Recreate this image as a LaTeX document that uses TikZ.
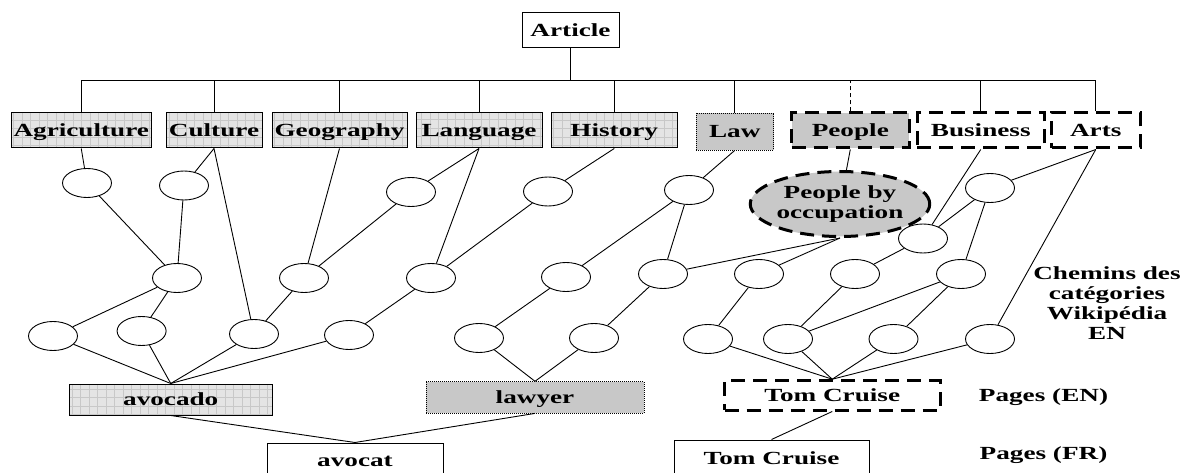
\documentclass[tikz,border=0pt]{standalone}
\usepackage{fontspec}
\newfontfamily\lbl[FakeStretch=1.47]{Liberation Serif}
\usetikzlibrary{shapes.geometric}
\definecolor{gridfill}{HTML}{E4E4E4}
\definecolor{gridline}{HTML}{C8C8C8}
\definecolor{dotfill}{HTML}{C8C8C8}
\tikzset{
  lab/.style={font=\lbl\bfseries\fontsize{18.5}{20}\selectfont, text=black},
  box/.style={lab, draw, line width=1pt, rectangle, inner sep=0pt, minimum height=35pt, fill=white, text depth=0pt},
  gridbox/.style={box, fill=gridfill, path picture={\draw[gridline, line width=0.4pt, step=8.5pt] (path picture bounding box.south west) grid (path picture bounding box.north east);}},
  dotbox/.style={box, fill=dotfill, densely dotted, line width=0.8pt},
  tdash/.style={line width=3pt, dash pattern=on 14pt off 8pt},
  dashbox/.style={box, tdash},
  ell/.style={draw, ellipse, line width=0.9pt, minimum width=49pt, minimum height=29pt, inner sep=0pt, fill=white},
  con/.style={line width=0.9pt},
}
\begin{document}
\begin{tikzpicture}[x=1pt, y=-1pt]
\useasboundingbox (0,0) rectangle (1181,473);
\clip (0,0) rectangle (1181,473);
% top boxes
\node[box, minimum width=97pt] (Article) at (570.5,30.5) {Article};
\node[gridbox, minimum width=139.5pt] (Agri) at (81.25,130.5) {Agriculture};
\node[gridbox, minimum width=96pt] (Cult) at (214,130.5) {Culture};
\node[gridbox, minimum width=135pt] (Geo) at (339.5,130.5) {Geography};
\node[gridbox, minimum width=126pt] (Lang) at (479,130.5) {Language};
\node[gridbox, minimum width=125.5pt] (Hist) at (614.25,130.5) {History};
\node[dotbox, minimum width=77.5pt, minimum height=37pt] (Law) at (734.75,131.5) {Law};
\node[dashbox, fill=dotfill, minimum width=117.4pt] (People) at (850.3,130.5) {People};
\node[dashbox, minimum width=127.5pt] (Bus) at (980.75,130.5) {Business};
\node[dashbox, minimum width=88.5pt] (Arts) at (1095.75,130.5) {Arts};
% tree bar
\coordinate (bar) at (571,80);
\draw[con] (Article.south) -- (Article.south |- bar);
\draw[con] (Agri.north |- bar) -- (Arts.north |- bar);
\foreach \n in {Agri,Cult,Geo,Lang,Hist,Law,Bus,Arts}{
  \draw[con] (\n.north) -- (\n.north |- bar);
}
\draw[con, dash pattern=on 4pt off 3pt] (People.north) -- (People.north |- bar);
% ellipses
\node[ell] (E1) at (87,183) {};
\node[ell] (E2) at (184,185.5) {};
\node[ell] (E3) at (411,192) {};
\node[ell] (E4) at (548,191.5) {};
\node[ell] (EL) at (689,190) {};
\node[ell] (EA) at (990,188) {};
\node[ell] (R1) at (923,238.5) {};
\node[ell, lab, fill=dotfill, tdash, minimum width=158pt, minimum height=65pt, align=center] (POcc) at (840,204) {People by\\occupation};
\node[ell] (M1) at (177,278) {};
\node[ell] (M2) at (304,278) {};
\node[ell] (M3) at (431,278) {};
\node[ell] (M4) at (566,277) {};
\node[ell] (M5) at (663,274) {};
\node[ell] (M6) at (759,274) {};
\node[ell] (M7) at (855,274) {};
\node[ell] (M8) at (961,274) {};
\node[ell] (B1) at (53,336) {};
\node[ell] (B2) at (141.6,331) {};
\node[ell] (B3) at (254,334) {};
\node[ell] (B4) at (349,335) {};
\node[ell] (B5) at (479,338) {};
\node[ell] (B6) at (594,338) {};
\node[ell] (B7) at (708,339) {};
\node[ell] (B8) at (788,339) {};
\node[ell] (B9) at (893.5,339) {};
\node[ell] (B10) at (990,339) {};
% bottom boxes
\node[gridbox, minimum width=203.5pt, minimum height=31pt] (avocado) at (170.75,399.5) {avocado};
\node[dotbox, minimum width=218pt, minimum height=31.3pt] (lawyer) at (535,397.35) {lawyer};
\node[box, minimum width=176pt, minimum height=36pt] (avocat) at (355,461) {avocat};
\node[dashbox, minimum width=215.5pt, minimum height=29.3pt] (TCEN) at (832.25,395.35) {Tom Cruise};
\node[box, minimum width=195pt, minimum height=36pt] (TCFR) at (771.5,458) {Tom Cruise};
% side labels
\node[lab, align=center] (chem) at (1107,303) {Chemins des\\catégories\\Wikipédia\\EN};
\node[lab] (pen) at (1043.5,397) {Pages (EN)};
\node[lab] (pfr) at (1043.5,455) {Pages (FR)};
% connectors from categories
\draw[con] (Agri.south) -- (E1);
\draw[con] (Cult.south) -- (E2);
\draw[con] (Cult.south) -- (B3);
\draw[con] (Geo.south) -- (M2);
\draw[con] (Lang.south) -- (E3);
\draw[con] (Lang.south) -- (M3);
\draw[con] (Hist.south) -- (E4);
\draw[con] (Law.south) -- (EL);
\draw[con] (People.south) -- (POcc);
\draw[con] (Bus.south) -- (R1);
\draw[con] (Arts.south) -- (EA);
\draw[con] (Arts.south) -- (B10);
% inner connectors
\draw[con] (E1) -- (M1);
\draw[con] (E2) -- (M1);
\draw[con] (E3) -- (M2);
\draw[con] (E4) -- (M3);
\draw[con] (EL) -- (M4);
\draw[con] (EL) -- (M5);
\draw[con] (M1) -- (B1);
\draw[con] (M1) -- (B2);
\draw[con] (M2) -- (B3);
\draw[con] (M3) -- (B4);
\draw[con] (M4) -- (B5);
\draw[con] (M5) -- (B6);
\draw[con] (M6) -- (B7);
\draw[con] (M7) -- (B8);
\draw[con] (M8) -- (B8);
\draw[con] (M8) -- (B9);
\draw[con] (M5) -- (POcc.south);
\draw[con] (M6) -- (POcc.south);
\draw[con] (R1) -- (M7);
\draw[con] (R1) -- (EA);
\draw[con] (EA) -- (M8);
% to pages
\foreach \b in {B1,B2,B3,B4}{\draw[con] (\b) -- (avocado.north);}
\foreach \b in {B5,B6}{\draw[con] (\b) -- (lawyer.north);}
\foreach \b in {B7,B8,B9,B10}{\draw[con] (\b) -- (TCEN.north);}
\draw[con] (avocado.south) -- (avocat.north);
\draw[con] (lawyer.south) -- (avocat.north);
\draw[con] (TCEN.south) -- (TCFR.north);
\end{tikzpicture}
\end{document}
